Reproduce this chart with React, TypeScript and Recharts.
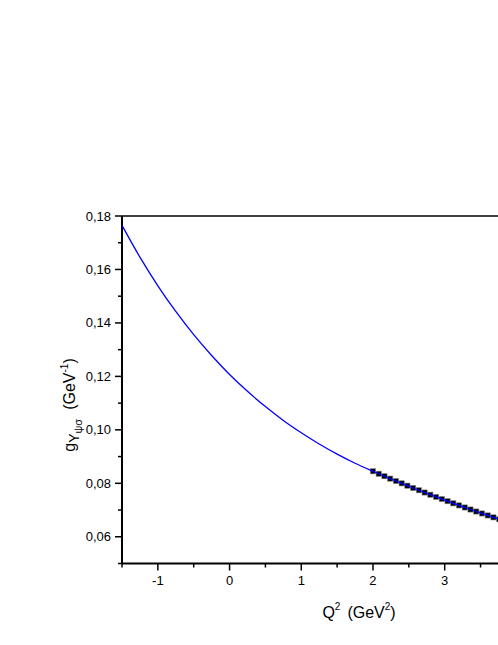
import { ComposedChart, Line, XAxis, YAxis, Label } from 'recharts';

// smooth part of the curve
const curveQ2 = [-1.5, -1.25, -1.0, -0.75, -0.5, -0.25, 0, 0.25, 0.5, 0.75, 1.0, 1.25, 1.5, 1.75];
const curveG = [0.1765, 0.1646, 0.1539, 0.1443, 0.1356, 0.1278, 0.1207, 0.1144, 0.1087, 0.1035, 0.0989, 0.0947, 0.0909, 0.0875];

// points with square markers
const pointQ2 = [2.0, 2.08, 2.16, 2.24, 2.32, 2.4, 2.48, 2.56, 2.64, 2.72, 2.8, 2.88, 2.96, 3.04, 3.12, 3.2, 3.28, 3.36, 3.44, 3.52, 3.6, 3.68, 3.76, 3.84, 3.92, 4.0];
const pointG = [0.0845, 0.08357, 0.08265, 0.08175, 0.08086, 0.07998, 0.07911, 0.07825, 0.0774, 0.07656, 0.07573, 0.07491, 0.0741, 0.0733, 0.07251, 0.07173, 0.07096, 0.0702, 0.06945, 0.06871, 0.06798, 0.06726, 0.06655, 0.06585, 0.06516, 0.06448];

const xTicks = [-1.5, -1, -0.5, 0, 0.5, 1, 1.5, 2, 2.5, 3, 3.5];
const yTicks = [0.05, 0.06, 0.07, 0.08, 0.09, 0.1, 0.11, 0.12, 0.13, 0.14, 0.15, 0.16, 0.17, 0.18];
const topTicks = [1, 2, 3, 4, 5, 6, 7, 8];

const points = pointQ2.map((q, i) => ({ q2: q, g: pointG[i] }));
const lineData = [...curveQ2.map((q, i) => ({ q2: q, g: curveG[i] })), ...points];

const FONT = '"Liberation Sans", Arial, sans-serif';

const BottomTick = (props: any) => {
  const { x, y, payload } = props;
  const major = Number.isInteger(payload.value);
  return (
    <g>
      <line x1={x} x2={x} y1={y} y2={y + (major ? 7 : 4)} stroke="#000" strokeWidth={1.5} />
      {major && (
        <text x={x} y={y + 21} textAnchor="middle" fontSize={13} fontFamily={FONT} fill="#000">
          {payload.value}
        </text>
      )}
    </g>
  );
};

const LeftTick = (props: any) => {
  const { x, y, payload } = props;
  const major = Math.round(payload.value * 100) % 2 === 0;
  return (
    <g>
      <line x1={x} x2={x - (major ? 7 : 4)} y1={y} y2={y} stroke="#000" strokeWidth={1.5} />
      {major && (
        <text x={x - 11} y={y + 4.5} textAnchor="end" fontSize={13} fontFamily={FONT} fill="#000">
          {payload.value.toFixed(2).replace('.', ',')}
        </text>
      )}
    </g>
  );
};

const TopTick = (props: any) => {
  const { x, y, payload } = props;
  const major = payload.value % 2 === 0;
  return <line x1={x} x2={x} y1={y} y2={y + (major ? 6 : 3.5)} stroke="#000" strokeWidth={1.5} />;
};

const Square = (props: any) => {
  const { cx, cy, index } = props;
  return <rect key={index} x={cx - 2.6} y={cy - 2.6} width={5.2} height={5.2} fill="#000" stroke="#888" strokeWidth={0.6} />;
};

const YTitle = (props: any) => {
  const { viewBox } = props;
  const cx = viewBox.x + 12.5;
  const cy = 405;
  return (
    <text transform={`rotate(-90, ${cx}, ${cy})`} x={cx} y={cy} textAnchor="middle" fontSize={16} fontFamily={FONT} fill="#000">
      <tspan>g</tspan>
      <tspan fontSize={14} dy={4}>Υ</tspan>
      <tspan fontSize={11} dy={3}>ψσ</tspan>
      <tspan fontSize={16} dy={-7} dx={9}>(GeV</tspan>
      <tspan fontSize={10} dy={-7}>-1</tspan>
      <tspan fontSize={16} dy={7}>)</tspan>
    </text>
  );
};

const XTitle = (props: any) => {
  const { viewBox } = props;
  const x = viewBox.x + 237;
  const y = viewBox.y + 54;
  return (
    <text x={x} y={y} textAnchor="middle" fontSize={16} fontFamily={FONT} fill="#000">
      <tspan>Q</tspan>
      <tspan fontSize={10} dy={-8}>2</tspan>
      <tspan fontSize={16} dy={8} dx={7}>(GeV</tspan>
      <tspan fontSize={10} dy={-8}>2</tspan>
      <tspan fontSize={16} dy={8}>)</tspan>
    </text>
  );
};

export default function App() {
  return (
    <div style={{ position: 'fixed', left: 0, top: 0, width: 498, height: 645, overflow: 'hidden', background: '#fff' }}>
      <ComposedChart width={538} height={645} margin={{ top: 208, right: 21.6, bottom: 21.5, left: 62 }}>
        <XAxis
          xAxisId="top"
          orientation="top"
          type="number"
          domain={[0, 8.445]}
          ticks={topTicks}
          interval={0}
          height={8}
          tickSize={0}
          tickMargin={0}
          tickLine={false}
          tick={TopTick}
          axisLine={{ stroke: '#000', strokeWidth: 1.5 }}
          allowDataOverflow
        />
        <XAxis
          xAxisId="q"
          dataKey="q2"
          type="number"
          domain={[-1.5, 4]}
          ticks={xTicks}
          interval={0}
          height={60}
          tickSize={0}
          tickMargin={0}
          tickLine={false}
          tick={BottomTick}
          axisLine={{ stroke: '#000', strokeWidth: 2 }}
          allowDataOverflow
        >
          <Label content={XTitle} />
        </XAxis>
        <YAxis
          dataKey="g"
          type="number"
          domain={[0.05, 0.18]}
          ticks={yTicks}
          interval={0}
          width={60}
          tickSize={0}
          tickMargin={0}
          tickLine={false}
          tick={LeftTick}
          axisLine={{ stroke: '#000', strokeWidth: 2 }}
          allowDataOverflow
        >
          <Label content={YTitle} />
        </YAxis>
        <Line
          xAxisId="q"
          data={points}
          dataKey="g"
          stroke="none"
          dot={Square}
          activeDot={false}
          isAnimationActive={false}
        />
        <Line
          xAxisId="q"
          data={lineData}
          dataKey="g"
          type="monotone"
          stroke="#0000ff"
          strokeWidth={1.3}
          dot={false}
          activeDot={false}
          isAnimationActive={false}
          {...({ zIndex: 1500 } as any)}
        />
      </ComposedChart>
    </div>
  );
}
